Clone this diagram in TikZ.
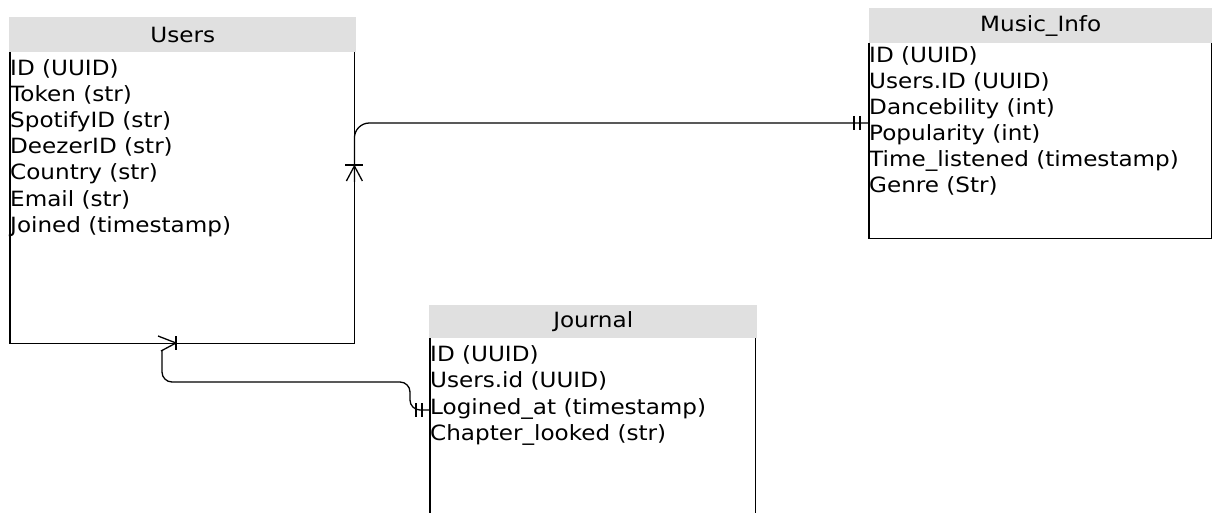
\documentclass[tikz,border=0pt]{standalone}
\usepackage{fontspec}
\setmainfont[FakeStretch=1.1]{DejaVu Sans}
\usetikzlibrary{calc}
\begin{document}
\begin{tikzpicture}[x=1pt,y=-1pt,
  hdr/.style={fill=hdrgray, draw=none, inner sep=0pt, anchor=north west,
    font=\fontsize{21}{26}\selectfont, text=black},
  tbody/.style={draw=none, inner sep=0pt, anchor=north west},
  field/.style={anchor=base west, inner sep=0pt, font=\fontsize{21}{26}\selectfont, text=black},
  edge/.style={line width=1.3pt, draw=black},
  link/.style={line width=1.3pt, draw=black, line join=round}]
\definecolor{hdrgray}{HTML}{E0E0E0}
\useasboundingbox (0,0) rectangle (1217,513);

% ---- Users table ----
\node[hdr, minimum width=347pt, minimum height=35pt] (usersH) at (9,17) {Users};
\node[tbody, minimum width=344pt, minimum height=291pt] (users) at (10,52) {};
\draw[edge] (users.north west) -- (users.south west) -- (users.south east) -- (users.north east);
\node[field] (u1) at (10,76) {ID (UUID)};
\node[field] (u2) at (10,102) {Token (str)};
\node[field] (u3) at (10,128) {SpotifyID (str)};
\node[field] (u4) at (10,154) {DeezerID (str)};
\node[field] (u5) at (10,180) {Country (str)};
\node[field] (u6) at (10,206) {Email (str)};
\node[field] (u7) at (10,232) {Joined (timestamp)};

% ---- Music_Info table ----
\node[hdr, minimum width=343pt, minimum height=35pt] (musicH) at (869,8) {Music\_Info};
\node[tbody, minimum width=342pt, minimum height=195pt] (music) at (869,43) {};
\draw[edge] (music.north west) -- (music.south west) -- (music.south east) -- (music.north east);
\node[field] (m1) at (869,63) {ID (UUID)};
\node[field] (m2) at (869,89) {Users.ID (UUID)};
\node[field] (m3) at (869,115) {Dancebility (int)};
\node[field] (m4) at (869,141) {Popularity (int)};
\node[field] (m5) at (869,167) {Time\_listened (timestamp)};
\node[field] (m6) at (869,193) {Genre (Str)};

% ---- Journal table ----
\node[hdr, minimum width=328pt, minimum height=33pt] (journalH) at (429,305) {Journal};
\node[tbody, minimum width=325pt, minimum height=176pt] (journal) at (430,338) {};
\draw[edge] (journal.north west) -- (journal.south west);
\draw[edge] (journal.north east) -- (journal.south east);
\node[field] (j1) at (430,361) {ID (UUID)};
\node[field] (j2) at (430,387.5) {Users.id (UUID)};
\node[field] (j3) at (430,414) {Logined\_at (timestamp)};
\node[field] (j4) at (430,440.5) {Chapter\_looked (str)};

% ---- Users -- Music_Info relation ----
\coordinate (usersMusicEnd) at (users.north east |- 0,182);
\coordinate (musicEnd) at (music.north west |- 0,123);
\draw[link, rounded corners=15pt] (usersMusicEnd) |- (musicEnd);
% one-or-many mark on Users
\draw[link] ($(usersMusicEnd)+(-9,-17)$) -- ($(usersMusicEnd)+(9,-17)$);
\draw[link] ($(usersMusicEnd)+(-8,-1)$) -- ($(usersMusicEnd)+(0,-16)$) -- ($(usersMusicEnd)+(8,-1)$);
% exactly-one mark on Music_Info
\draw[link] ($(musicEnd)+(-15,-7)$) -- ($(musicEnd)+(-15,7)$);
\draw[link] ($(musicEnd)+(-9,-7)$) -- ($(musicEnd)+(-9,7)$);

% ---- Users -- Journal relation ----
\coordinate (usersJournalEnd) at (162,350);
\coordinate (journalEnd) at (journal.north west |- 0,410);
\draw[link, rounded corners=10pt] (usersJournalEnd) -- (162,382) -- (410,382) -- (410,410) -- (journalEnd);
% one-or-many mark on Users
\draw[link] (176,336) -- (176,350);
\draw[link] (158,336) -- (176,343) -- (161,351);
% exactly-one mark on Journal
\draw[link] ($(journalEnd)+(-14,-7)$) -- ($(journalEnd)+(-14,7)$);
\draw[link] ($(journalEnd)+(-8,-7)$) -- ($(journalEnd)+(-8,7)$);
\end{tikzpicture}
\end{document}
